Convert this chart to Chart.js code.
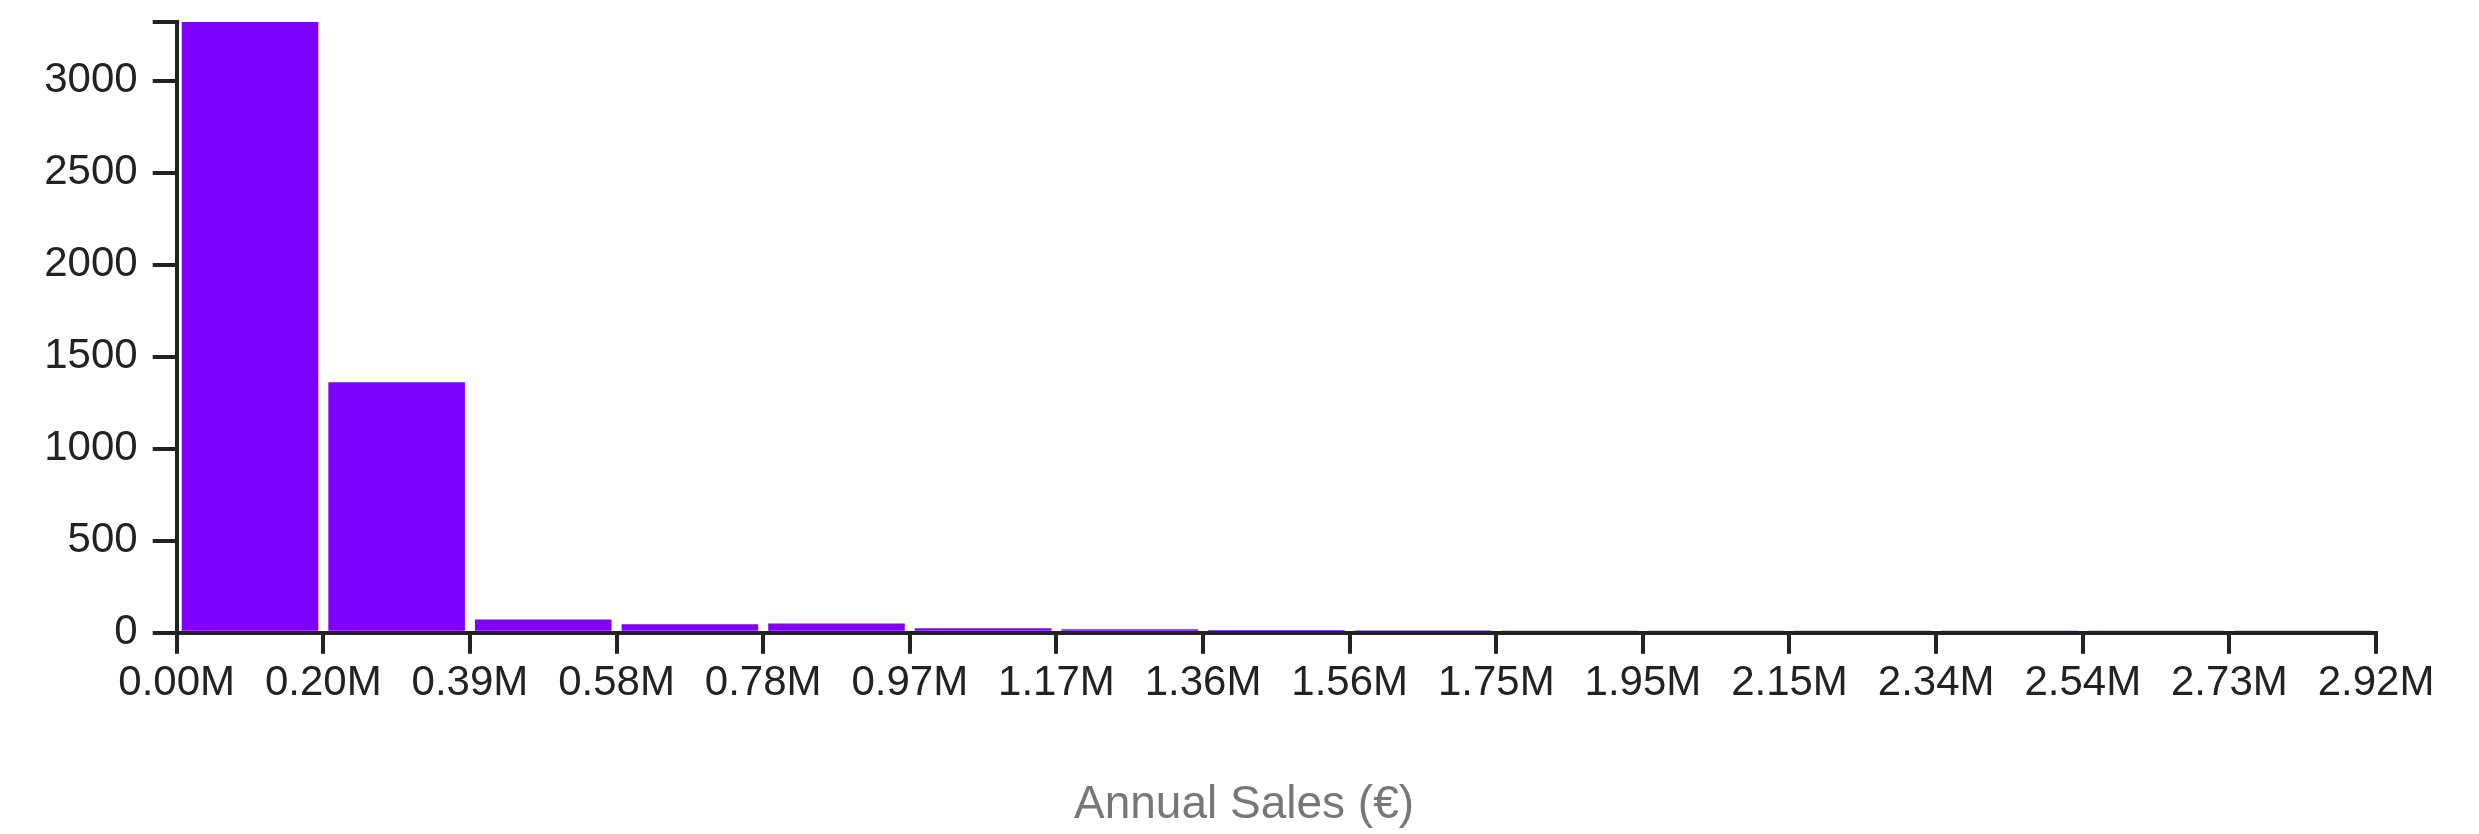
<!DOCTYPE html>
<html>
<head>
<meta charset="utf-8">
<script src="https://cdn.jsdelivr.net/npm/chart.js@4/dist/chart.umd.min.js"></script>
<style>
  body { margin: 0; background: #fff; }
  #wrap { width: 2479px; height: 834px; }
</style>
</head>
<body>
<div id="wrap"><canvas id="histo" width="2479" height="834"></canvas></div>
<script>
// bin edges in millions of euros
var binEdges = [0, 0.1947, 0.3893, 0.584, 0.7787, 0.9733, 1.168, 1.3627, 1.5573, 1.752, 1.9467, 2.1413, 2.336, 2.5307, 2.7253, 2.92];
var tickLabels = ['0.00M', '0.20M', '0.39M', '0.58M', '0.78M', '0.97M', '1.17M', '1.36M', '1.56M', '1.75M', '1.95M', '2.15M', '2.34M', '2.54M', '2.73M', '2.92M'];
var counts = [3318, 1361, 72, 46, 51, 25, 19, 15, 14, 13, 3, 2, 1, 1, 1];
var yTicks = [0, 500, 1000, 1500, 2000, 2500, 3000];
var yMax = 3318;

var fontFamily = '"Liberation Sans", Arial, Helvetica, sans-serif';
var ink = '#222';

var points = [];
for (var i = 0; i < counts.length; i++) {
  points.push({x: (binEdges[i] + binEdges[i + 1]) / 2, y: counts[i]});
}

var ctx = document.getElementById('histo').getContext('2d');
new Chart(ctx, {
  type: 'bar',
  data: {
    datasets: [{
      label: 'count',
      data: points,
      backgroundColor: '#8000ff',
      borderWidth: 0,
      categoryPercentage: 0.932,
      barPercentage: 1
    }]
  },
  options: {
    responsive: false,
    animation: false,
    devicePixelRatio: 1,
    layout: { padding: { left: 9, top: 22, right: 0, bottom: 0 } },
    plugins: {
      legend: { display: false },
      tooltip: { enabled: false },
      title: {
        display: true,
        text: 'Annual Sales (€)',
        position: 'bottom',
        color: '#777',
        font: { family: fontFamily, size: 46, weight: 'normal' },
        padding: { top: 0, bottom: 1 }
      }
    },
    scales: {
      x: {
        type: 'linear',
        min: binEdges[0],
        max: binEdges[binEdges.length - 1],
        offset: false,
        afterBuildTicks: function(scale) {
          scale.ticks = binEdges.map(function(v) { return {value: v}; });
        },
        afterFit: function(scale) {
          scale.height = 145;
          scale.paddingLeft = 0;
          scale.paddingRight = 0;
        },
        grid: { drawOnChartArea: false, drawTicks: true, tickLength: 21, lineWidth: 4, color: ink, offset: false, z: 1 },
        border: { display: true, color: ink, width: 4, z: 1 },
        ticks: {
          autoSkip: false,
          maxRotation: 0,
          padding: 4,
          color: ink,
          font: { family: fontFamily, size: 42 },
          callback: function(value, index) { return tickLabels[index]; }
        }
      },
      y: {
        min: 0,
        max: yMax,
        afterBuildTicks: function(scale) {
          var t = yTicks.map(function(v) { return {value: v}; });
          t.push({value: yMax});
          scale.ticks = t;
        },
        afterFit: function(scale) {
          scale.width = 167.7;
          scale.paddingTop = 0;
          scale.paddingBottom = 0;
        },
        grid: { drawOnChartArea: false, drawTicks: true, tickLength: 24, lineWidth: 4, color: ink, z: 1 },
        border: { display: true, color: ink, width: 4, z: 1 },
        ticks: {
          padding: 15,
          color: ink,
          font: { family: fontFamily, size: 42 },
          callback: function(value) {
            return yTicks.indexOf(value) >= 0 ? String(value) : '';
          }
        }
      },
      // blank right-hand axis that only reserves the right margin
      yRight: {
        position: 'right',
        display: true,
        grid: { display: false, drawTicks: false },
        border: { display: false },
        ticks: { display: false },
        afterFit: function(scale) {
          scale.width = 103;
          scale.paddingTop = 0;
          scale.paddingBottom = 0;
        }
      }
    }
  }
});
</script>
</body>
</html>
